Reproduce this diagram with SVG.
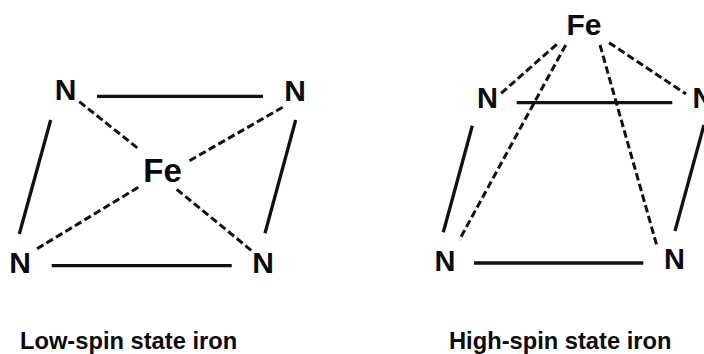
<svg xmlns="http://www.w3.org/2000/svg" width="704" height="354" viewBox="0 0 704 354">
<style>
text{font-family:"Liberation Sans",Arial,sans-serif;font-weight:bold;fill:#0a0a0a}
.n{font-size:30px;text-anchor:middle}
.f{font-size:33px;text-anchor:middle}
.c{font-size:23.700px}
.s{stroke:#111;stroke-width:3.300;fill:none}
.d{stroke:#111;stroke-width:3;fill:none;stroke-dasharray:7.500 3.600}
</style>
<rect width="704" height="354" fill="#fff"/>
<g id="connectors">
<path class="s" d="M97 96.300H263M50.700 120L19.300 234M295.700 120L265 233.300M51.700 265.700H231.700"/>
<path class="d" d="M79.300 101.700L140 150M282.700 107.300L186.700 162.300M138.300 187.300L35 250M176.700 189.300L251.700 250.700"/>
<path class="s" d="M516.700 102.700H672.300M472.300 125.700L443.300 232.300M704 125L675 231M474 263H643.300"/>
<path class="d" d="M556.700 44.300L500 94.300M565.700 45L459.300 240M600 45L657.300 247.300M609 42.700L686 94"/>
</g>
<g id="low-n1"><text class="n" x="65.500" y="100">N</text></g>
<g id="low-n2"><text class="n" x="295" y="100.500">N</text></g>
<g id="low-fe"><text class="f" x="162.500" y="182">Fe</text></g>
<g id="low-n3"><text class="n" x="20" y="273">N</text></g>
<g id="low-n4"><text class="n" x="263" y="273">N</text></g>
<g id="high-fe"><text class="f" x="584" y="35" style="font-size:30px">Fe</text></g>
<g id="high-n1"><text class="n" x="487.500" y="108" style="font-size:29px">N</text></g>
<g id="high-n2"><text class="n" x="703" y="108" style="font-size:29px">N</text></g>
<g id="high-n3"><text class="n" x="445" y="270.700" style="font-size:29px">N</text></g>
<g id="high-n4"><text class="n" x="674.500" y="269.300" style="font-size:29px">N</text></g>
<g id="low-caption"><text class="c" x="20" y="349">Low-spin state iron</text></g>
<g id="high-caption"><text class="c" x="449" y="349">High-spin state iron</text></g>
</svg>
